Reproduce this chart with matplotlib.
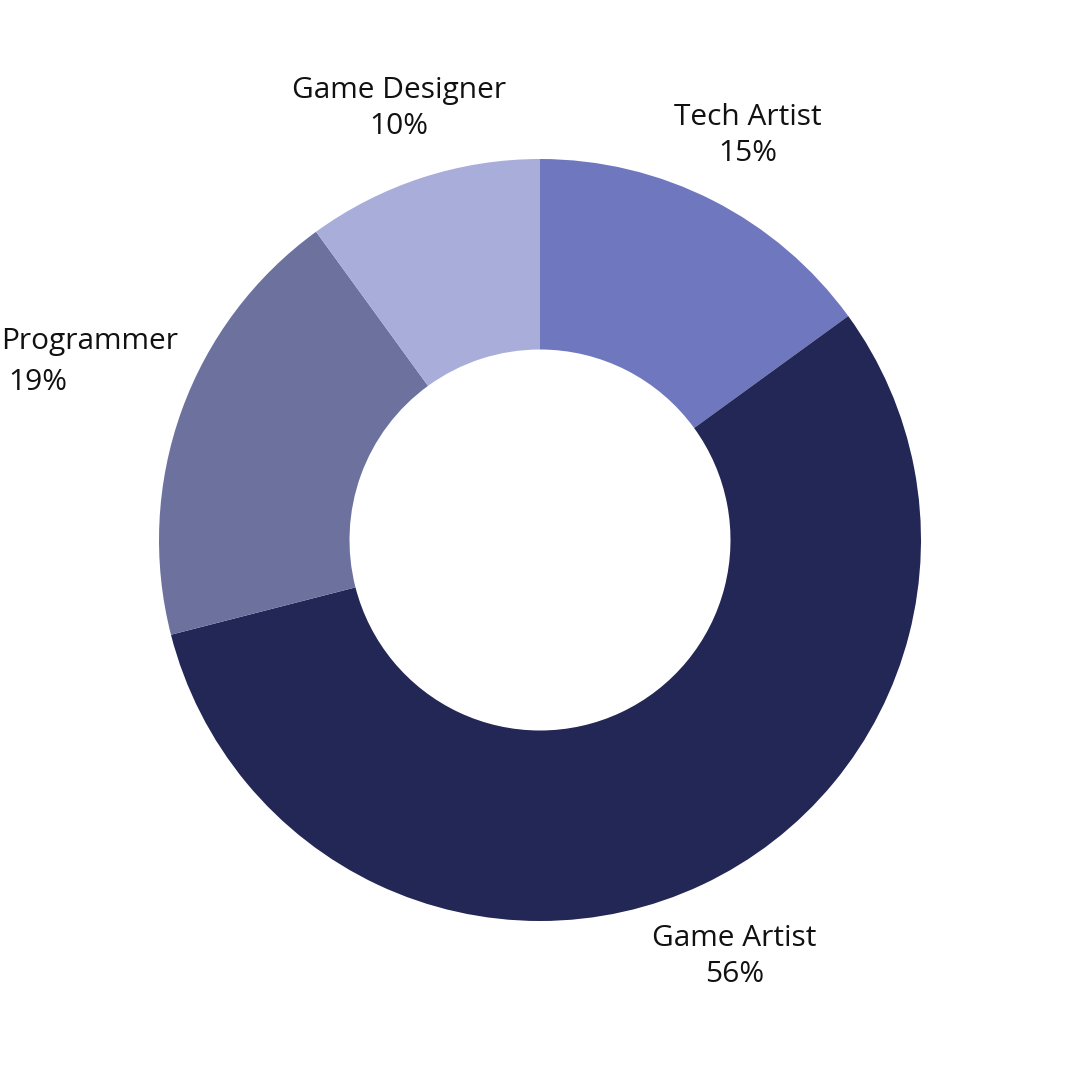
import matplotlib
matplotlib.use("Agg")
import matplotlib.pyplot as plt
import numpy as np

roles = ["Tech Artist", "Game Artist", "Programmer", "Game Designer"]
shares = [15, 56, 19, 10]
colors = ["#6F77BF", "#222755", "#6C719E", "#A9ADD9"]
label_radius = [1.20, 1.20, 1.40, 1.20]
line_gap_px = [36, 36, 41, 36]

W = H = 1080
R_PX = 381.0
fig = plt.figure(figsize=(W / 100, H / 100), dpi=100)
ax = fig.add_axes([0, 0, 1, 1])

wedges, _ = ax.pie(shares, colors=colors, startangle=90, counterclock=False,
                   radius=1.0, wedgeprops=dict(width=0.5, linewidth=0))
lim = (W / 2) / R_PX
ax.set_xlim(-lim, lim)
ax.set_ylim(-lim, lim)
ax.set_aspect("equal")
ax.axis("off")

fs = 21.5
fig.canvas.draw()
renderer = fig.canvas.get_renderer()
for w, name, s, lr, gap in zip(wedges, roles, shares, label_radius, line_gap_px):
    ang = np.deg2rad((w.theta1 + w.theta2) / 2)
    cx, cy = lr * np.cos(ang), lr * np.sin(ang) - 3 / R_PX
    off = gap / 2 / R_PX
    t1 = ax.text(cx, cy + off, name, ha="center", va="center",
                 fontsize=fs, family="Open Sans", color="#111111")
    t2 = ax.text(cx, cy - off, f"{s}%", ha="center", va="center",
                 fontsize=fs, family="Open Sans", color="#111111")
    for t in (t1, t2):
        bb = t.get_window_extent(renderer)
        if bb.x0 < 1:
            shift = (1 - bb.x0) / R_PX
            x, y = t.get_position()
            t.set_position((x + shift, y))

fig.savefig("out.png", dpi=100, facecolor="white")
